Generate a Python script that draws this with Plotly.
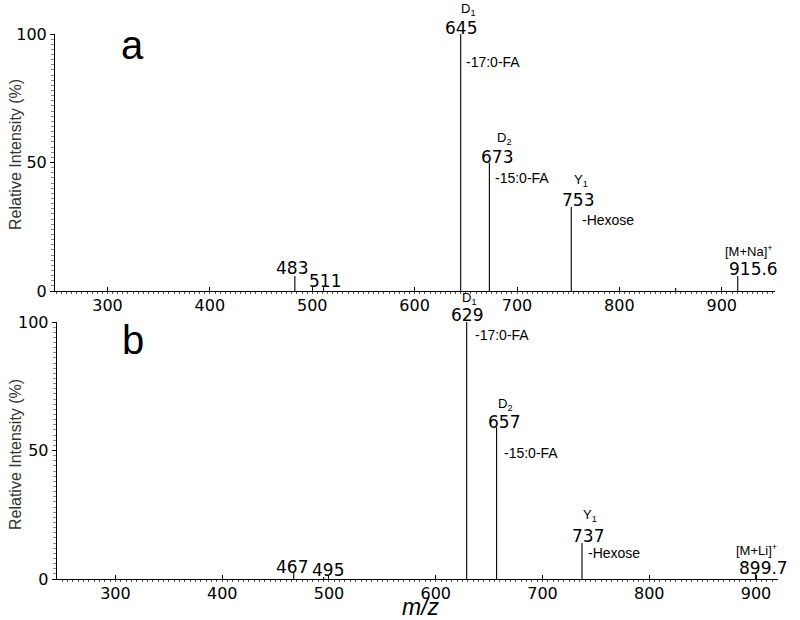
import plotly.graph_objects as go

# ---------------- data ----------------
mz_a = [483, 511, 645, 673, 753, 855, 915.6]
int_a = [5.8, 1.5, 100, 50, 32.7, 1.2, 5.8]
mz_b = [467, 495, 629, 657, 737, 899.7]
int_b = [2.5, 0.8, 100, 59, 14, 2.3]

num_labels_a = ["483", "511", "645", "673", "753", "915.6"]
num_mz_a = [483, 511, 645, 673, 753, 915.6]
ion_labels_a = ["D<sub>1</sub>", "D<sub>2</sub>", "Y<sub>1</sub>", "[M+Na]<sup>+</sup>"]
ion_mz_a = [645, 673, 753, 915.6]
loss_labels_a = ["-17:0-FA", "-15:0-FA", "-Hexose"]
loss_mz_a = [645, 673, 753]

num_labels_b = ["467", "495", "629", "657", "737", "899.7"]
num_mz_b = [467, 495, 629, 657, 737, 899.7]
ion_labels_b = ["D<sub>1</sub>", "D<sub>2</sub>", "Y<sub>1</sub>", "[M+Li]<sup>+</sup>"]
ion_mz_b = [629, 657, 737, 899.7]
loss_labels_b = ["-17:0-FA", "-15:0-FA", "-Hexose"]
loss_mz_b = [629, 657, 737]

x_ticks = [300, 400, 500, 600, 700, 800, 900]
y_ticks = [0, 50, 100]

# ---------------- style offsets (pixels: dx right, dy down) ----------------
num_off_a = [(-3, -8), (1, -6), (0, -6), (8, -6), (7, -7), (16, -7)]
ion_off_a = [(7, -24), (15, -24), (10, -26), (11, -25)]
loss_off_a = [(3, 28), (4, 15), (9, 13)]
num_off_b = [(-2, -6), (4, -7), (0, -7), (7, -5), (6, -7), (8, -5)]
ion_off_b = [(2, -24), (8, -23), (8, -28), (1, -23)]
loss_off_b = [(6, 13), (5, 26), (4, 10)]

NUMFONT = dict(family="DejaVu Sans", size=17, color="black")
SMALLFONT = dict(family="Liberation Sans, Arial", size=14, color="black")
IONFONT = dict(family="Liberation Sans, Arial", size=13, color="black")


def sticks(mz, inten):
    xs, ys = [], []
    for m, h in zip(mz, inten):
        xs += [m, m, None]
        ys += [0, h, None]
    return xs, ys


fig = go.Figure()
xa, ya = sticks(mz_a, int_a)
xb, yb = sticks(mz_b, int_b)
fig.add_trace(go.Scatter(x=xa, y=ya, mode="lines", line=dict(color="black", width=1.1),
                         xaxis="x", yaxis="y", showlegend=False, hoverinfo="skip"))
fig.add_trace(go.Scatter(x=xb, y=yb, mode="lines", line=dict(color="black", width=1.1),
                         xaxis="x2", yaxis="y2", showlegend=False, hoverinfo="skip"))

annotations = []


def lookup(mz_list, int_list, m):
    return int_list[mz_list.index(m)]


def add_group(labels, mzs, offs, allmz, allint, xr, yr, font, anchor):
    for t, m, (dx, dy) in zip(labels, mzs, offs):
        annotations.append(dict(
            x=m, y=lookup(allmz, allint, m), xref=xr, yref=yr, text=t,
            showarrow=False, xshift=dx, yshift=-dy, font=font,
            xanchor=anchor, yanchor="middle"))


add_group(num_labels_a, num_mz_a, num_off_a, mz_a, int_a, "x", "y", NUMFONT, "center")
add_group(ion_labels_a, ion_mz_a, ion_off_a, mz_a, int_a, "x", "y", IONFONT, "center")
add_group(loss_labels_a, loss_mz_a, loss_off_a, mz_a, int_a, "x", "y", SMALLFONT, "left")
add_group(num_labels_b, num_mz_b, num_off_b, mz_b, int_b, "x2", "y2", NUMFONT, "center")
add_group(ion_labels_b, ion_mz_b, ion_off_b, mz_b, int_b, "x2", "y2", IONFONT, "center")
add_group(loss_labels_b, loss_mz_b, loss_off_b, mz_b, int_b, "x2", "y2", SMALLFONT, "left")

W, H = 800, 620


def px(x):
    return x / W


def py(y):
    return 1 - y / H


annotations += [
    dict(x=px(132), y=py(45), xref="paper", yref="paper", text="a", showarrow=False,
         font=dict(family="Liberation Sans, Arial", size=40, color="black"), xanchor="center", yanchor="middle"),
    dict(x=px(133), y=py(340), xref="paper", yref="paper", text="b", showarrow=False,
         font=dict(family="Liberation Sans, Arial", size=40, color="black"), xanchor="center", yanchor="middle"),
    dict(x=px(15), y=py(155), xref="paper", yref="paper", text="Relative Intensity (%)", showarrow=False,
         textangle=-90, font=dict(family="Liberation Sans, Arial", size=16, color="#333"),
         xanchor="center", yanchor="middle"),
    dict(x=px(15), y=py(455), xref="paper", yref="paper", text="Relative Intensity (%)", showarrow=False,
         textangle=-90, font=dict(family="Liberation Sans, Arial", size=16, color="#333"),
         xanchor="center", yanchor="middle"),
    dict(x=px(421), y=py(607), xref="paper", yref="paper", text="<i>m/z</i>", showarrow=False,
         font=dict(family="Liberation Sans, Arial", size=23, color="black"), xanchor="center", yanchor="middle"),
]

xcommon = dict(showline=True, linecolor="black", linewidth=1, ticks="inside", ticklen=4,
               tickcolor="black", tickvals=x_ticks, showgrid=False, zeroline=False,
               tickfont=dict(family="DejaVu Sans", size=16, color="black"),
               minor=dict(dtick=5, ticks="outside", ticklen=2, tickcolor="#555", showgrid=False),
               automargin=False, fixedrange=True)
ycommon = dict(showline=True, linecolor="black", linewidth=1, ticks="outside", ticklen=4,
               tickcolor="black", tickvals=y_ticks, showgrid=False, zeroline=False,
               tickfont=dict(family="DejaVu Sans", size=16, color="black"),
               minor=dict(dtick=2, ticks="outside", ticklen=3, tickcolor="#888", showgrid=False),
               automargin=False, fixedrange=True, range=[0, 100])

fig.update_layout(
    width=W, height=H, margin=dict(l=0, r=0, t=0, b=0),
    paper_bgcolor="white", plot_bgcolor="white",
    xaxis=dict(domain=[px(55), px(775)], range=[248.7, 952], anchor="y", **xcommon),
    yaxis=dict(domain=[py(291), py(34)], anchor="x", **ycommon),
    xaxis2=dict(domain=[px(56.7), px(778)], range=[244.96, 920.6], anchor="y2", **xcommon),
    yaxis2=dict(domain=[py(579), py(322)], anchor="x2", **ycommon),
    annotations=annotations,
    showlegend=False,
)

fig.write_html("out.html", config={"displayModeBar": False},
               post_script="document.body.style.margin='0';document.body.style.overflow='hidden';")
